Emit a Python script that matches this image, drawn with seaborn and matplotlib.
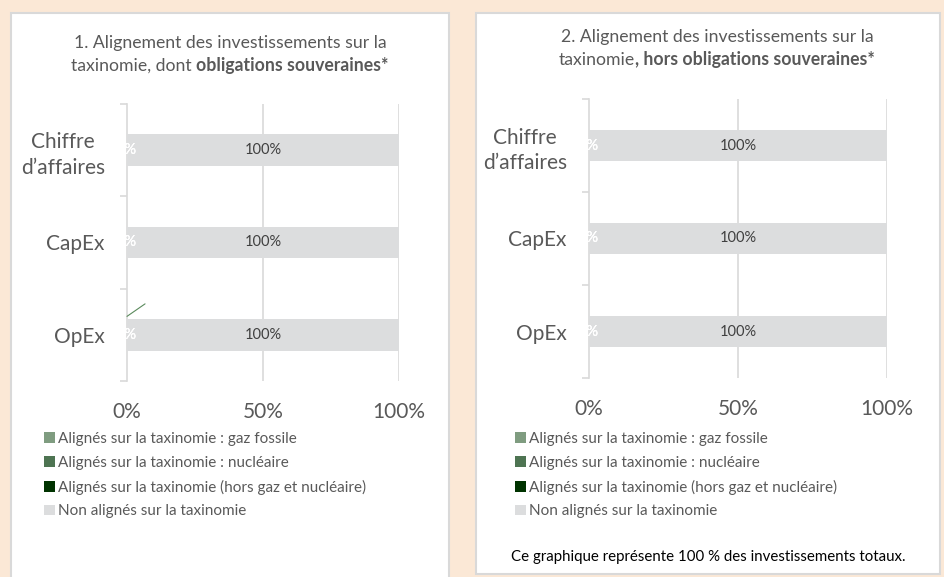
import numpy as np
import pandas as pd
import matplotlib
matplotlib.use("Agg")
import matplotlib.pyplot as plt
from matplotlib.patches import Rectangle, Patch
import seaborn as sns

# ---------------- data ----------------
categories = ["Chiffre\nd’affaires", "CapEx", "OpEx"]
series_names = [
    "Alignés sur la taxinomie : gaz fossile",
    "Alignés sur la taxinomie : nucléaire",
    "Alignés sur la taxinomie (hors gaz et nucléaire)",
    "Non alignés sur la taxinomie",
]
# chart 1 : including sovereign bonds (percent)
c1_gaz = [0, 0, 0]
c1_nuc = [0, 0, 0]
c1_hors = [0, 0, 0]
c1_non = [100, 100, 100]
# chart 2 : excluding sovereign bonds (percent)
c2_gaz = [0, 0, 0]
c2_nuc = [0, 0, 0]
c2_hors = [0, 0, 0]
c2_non = [100, 100, 100]

xticks = [0, 50, 100]
xtick_labels = ["0%", "50%", "100%"]

title1_a = "1. Alignement des investissements sur la"
title1_b = ("taxinomie, dont ", "obligations souveraines*")
title2_a = "2. Alignement des investissements sur la"
title2_b = ("taxinomie", ", hors obligations souveraines*")
footer = "Ce graphique représente 100 % des investissements totaux."

# ---------------- style ----------------
colors = ["#7F9C80", "#4E7452", "#003300", "#DCDDDE"]
label_colors = ["white", "white", "white", "#404040"]
TXT = "#595959"
BG = "#FBE8D6"
FONT = ["Lato", "DejaVu Sans"]

sns.set_theme(style="white")
plt.rcParams["font.family"] = FONT

fig = plt.figure(figsize=(9.44, 5.77), dpi=100, facecolor=BG)
W, H = 944, 577


def fx(px):
    return px / W


def fy(py):
    return 1 - py / H


# white panels
for (x0, y0, x1, y1) in [(11, 13, 449, 580), (476, 13, 940, 574)]:
    fig.patches.append(Rectangle((fx(x0), fy(y1)), fx(x1 - x0), fy(y0) - fy(y1),
                                 transform=fig.transFigure, facecolor="white",
                                 edgecolor="#D9D9D9", linewidth=1.5, zorder=-5))


def draw_panel(ax, gaz, nuc, hors, non, leader=False):
    vals = [gaz, nuc, hors, non]
    df = pd.DataFrame({"cat": categories})
    cum = np.zeros(len(categories))
    cums = []
    for v in vals:
        cum = cum + np.array(v, dtype=float)
        cums.append(cum.copy())
    # draw from total back to first series so they stack
    for i in range(len(vals) - 1, -1, -1):
        df["v"] = cums[i]
        sns.barplot(data=df, x="v", y="cat", orient="h", color=colors[i],
                    width=0.34, errorbar=None, ax=ax, saturation=1,
                    linewidth=0, zorder=3)
    # labels
    for i, v in enumerate(vals):
        start = cums[i] - np.array(v, dtype=float)
        for j, val in enumerate(v):
            ax.text(start[j] + val / 2, j, f"{val:.0f}%", ha="center", va="center",
                    fontsize=10.5, color=label_colors[i], zorder=5)
    if leader:
        j = len(categories) - 1
        ax.annotate("", xy=(cums[0][j], j - 0.2), xytext=(13, 9),
                    textcoords="offset points",
                    arrowprops=dict(arrowstyle="-", color="#5A8A5C", lw=0.8,
                                    shrinkA=0, shrinkB=0), zorder=6)
    ax.set_xlim(0, 100)
    ax.set_xticks(xticks)
    ax.set_xticklabels(xtick_labels)
    ax.set_xlabel("")
    ax.set_ylabel("")
    ax.set_ylim(len(categories) - 0.5, -0.5)
    ax.set_yticks(range(len(categories)))
    ax.set_yticklabels(categories, linespacing=1.35, multialignment="center")
    ax.set_yticks(np.arange(-0.5, len(categories), 1.0), minor=True)
    ax.tick_params(axis="y", which="major", length=0, pad=16, labelsize=15, labelcolor=TXT)
    ax.tick_params(axis="y", which="minor", length=5, width=1.2, color="#D9D9D9", left=True)
    ax.tick_params(axis="x", length=0, pad=15, labelsize=15, labelcolor=TXT)
    for s in ["top", "right", "bottom"]:
        ax.spines[s].set_visible(False)
    ax.spines["left"].set_color("#D9D9D9")
    ax.spines["left"].set_linewidth(1.2)
    for x in xticks[1:]:
        ax.axvline(x, color="#D9D9D9", lw=1.2, zorder=1)
    ax.set_facecolor("none")


ax1 = fig.add_axes([fx(127), fy(381), fx(399 - 127), fy(104) - fy(381)])
ax2 = fig.add_axes([fx(589), fy(378), fx(887 - 589), fy(99) - fy(378)])
draw_panel(ax1, c1_gaz, c1_nuc, c1_hors, c1_non, leader=True)
draw_panel(ax2, c2_gaz, c2_nuc, c2_hors, c2_non)

renderer = fig.canvas.get_renderer()


def mixed_title(cx, y1, y2, line1, parts):
    fig.text(fx(cx), fy(y1), line1, ha="center", va="center", fontsize=12.7, color=TXT)
    t1 = fig.text(0, fy(y2), parts[0], ha="left", va="center", fontsize=12.7, color=TXT)
    t2 = fig.text(0, fy(y2), parts[1], ha="left", va="center", fontsize=12.7,
                  color=TXT, fontweight="bold")
    w1 = t1.get_window_extent(renderer).width
    w2 = t2.get_window_extent(renderer).width
    left = cx - (w1 + w2) / 2
    t1.set_x(fx(left))
    t2.set_x(fx(left + w1))


mixed_title(230, 43, 66, title1_a, title1_b)
mixed_title(717, 37, 60, title2_a, title2_b)

handles = [Patch(facecolor=c, edgecolor="none") for c in colors]
for xl, ax in [(44, ax1), (515, ax2)]:
    fig.legend(handles, series_names, loc="upper left",
               bbox_to_anchor=(fx(xl), fy(432)), frameon=False, fontsize=11,
               labelcolor=TXT, handlelength=0.7, handleheight=0.7,
               handletextpad=0.2, labelspacing=0.64, borderpad=0, borderaxespad=0)

fig.text(fx(708), fy(557), footer, ha="center", va="center", fontsize=10.8, color="black")

fig.savefig("out.png", dpi=100, facecolor=BG)
